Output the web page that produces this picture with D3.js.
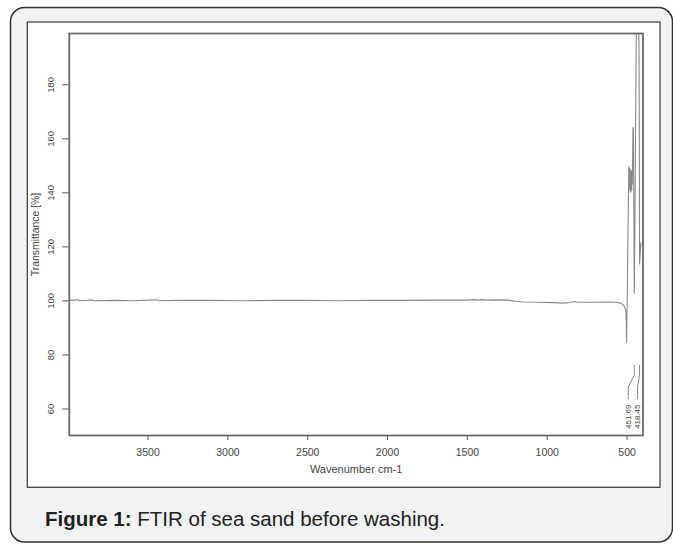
<!DOCTYPE html>
<html>
<head>
<meta charset="utf-8">
<script src="https://cdn.jsdelivr.net/npm/d3@7"></script>
<style>
  body { margin: 0; background: #fff; }
  svg { display: block; }
</style>
</head>
<body>
<svg id="chart"></svg>
<script>
// spectrum
const wavenumber = [3990, 3935, 3925, 3880, 3848, 3835, 3700, 3600, 3440, 3430, 3300, 3100, 2900, 2700,
  2500, 2300, 2100, 1900, 1700, 1500, 1460, 1440, 1400, 1380, 1300, 1240, 1190, 1150, 1050, 950,
  900, 860, 830, 800, 700, 620, 570, 545, 525, 512, 505, 502, 500, 497, 492, 486, 484, 482, 480,
  478, 476, 474, 472, 470, 468, 466, 464, 462, 460, 457, 454, 451.69, 448, 444, 440, 436, 430,
  424, 421, 418.45, 415, 412, 409];
const transmittance = [100.0, 100.2, 99.9, 100.0, 100.2, 99.9, 100.0, 99.9, 100.2, 99.9, 100.0, 100.0, 99.9, 100.0,
  100.0, 99.9, 100.0, 100.0, 100.1, 100.1, 100.3, 100.1, 100.3, 100.1, 100.2, 100.1, 99.6, 99.4, 99.3, 99.2,
  99.0, 99.2, 99.6, 99.3, 99.3, 99.4, 99.3, 99.1, 98.6, 97.6, 96.2, 93, 84.6, 96, 120, 149.5, 146, 149, 141,
  148.5, 140, 147, 141.5, 148, 140.5, 146.5, 143, 152, 164, 163.5, 130, 102.6, 125, 160, 192, 214, 226,
  218, 180, 113.5, 117, 120, 121.5];

const peaks = [451.69, 418.45];
const xTicks = [3500, 3000, 2500, 2000, 1500, 1000, 500];
const yTicks = [60, 80, 100, 120, 140, 160, 180];

const xDomain = [3990, 397];
const yDomain = [50, 198.8];

//------------------------------

const W = 673, H = 544;
const plot = {"left": 69.3, "top": 33.5, "right": 643, "bottom": 435.5};
const labelDx = [-6, -2];

let svg = d3.select("#chart")
  .attr("width", W)
  .attr("height", H);

// outer card + figure box
svg.append("rect")
  .attr("x", 10.5)
  .attr("y", 7.5)
  .attr("width", 662)
  .attr("height", 534.5)
  .attr("rx", 14)
  .attr("fill", "#f1f2f4")
  .attr("stroke", "#333")
  .attr("stroke-width", 1.5);
svg.append("rect")
  .attr("x", 27.3)
  .attr("y", 22)
  .attr("width", 632.7)
  .attr("height", 465.3)
  .attr("fill", "#fff")
  .attr("stroke", "#454545")
  .attr("stroke-width", 1.3);

const x = d3.scaleLinear().domain(xDomain).range([plot.left, plot.right]);
const y = d3.scaleLinear().domain(yDomain).range([plot.bottom, plot.top]);

// axes
let xAxis = svg.append("g")
  .attr("transform", `translate(0,${plot.bottom})`)
  .call(d3.axisBottom(x).tickValues(xTicks).tickFormat(d3.format("d"))
    .tickSize(4.5).tickPadding(9).tickSizeOuter(0));
xAxis.select(".domain").remove();
xAxis.selectAll("line").attr("stroke", "#555");
xAxis.selectAll("text")
  .attr("font-family", "Liberation Sans, Arial, sans-serif")
  .attr("font-size", 10.5)
  .attr("fill", "#444");

let yAxis = svg.append("g")
  .attr("transform", `translate(${plot.left},0)`)
  .call(d3.axisLeft(y).tickValues(yTicks).tickFormat(d3.format("d"))
    .tickSize(7).tickSizeOuter(0));
yAxis.select(".domain").remove();
yAxis.selectAll("line").attr("stroke", "#555");
yAxis.selectAll("text")
  .attr("transform", "rotate(-90)")
  .attr("x", 0)
  .attr("y", -15.8)
  .attr("dy", 0)
  .attr("text-anchor", "middle")
  .attr("font-family", "Liberation Sans, Arial, sans-serif")
  .attr("font-size", 9.5)
  .attr("fill", "#444");

svg.append("text")
  .attr("transform", `translate(38.5,${(plot.top + plot.bottom) / 2}) rotate(-90)`)
  .attr("text-anchor", "middle")
  .attr("font-family", "Liberation Sans, Arial, sans-serif")
  .attr("font-size", 10.4)
  .attr("fill", "#444")
  .text("Transmittance [%]");

svg.append("text")
  .attr("x", (plot.left + plot.right) / 2)
  .attr("y", 472.7)
  .attr("text-anchor", "middle")
  .attr("font-family", "Liberation Sans, Arial, sans-serif")
  .attr("font-size", 11)
  .attr("fill", "#444")
  .text("Wavenumber cm-1");

// spectrum
svg.append("clipPath")
  .attr("id", "plotclip")
  .append("rect")
  .attr("x", plot.left)
  .attr("y", plot.top)
  .attr("width", plot.right - plot.left)
  .attr("height", plot.bottom - plot.top);

const line = d3.line()
  .x((d) => x(d[0]))
  .y((d) => y(d[1]));

svg.append("path")
  .datum(wavenumber.map((w, i) => [w, transmittance[i]]))
  .attr("d", line)
  .attr("clip-path", "url(#plotclip)")
  .attr("fill", "none")
  .attr("stroke", "#8a8a8a")
  .attr("stroke-width", 1.1)
  .attr("stroke-linejoin", "round");

// peak labels
let pk = svg.append("g");
peaks.forEach((p, i) => {
  let px = x(p);
  let lx = px + labelDx[i];
  pk.append("path")
    .attr("d", `M${px},365V375L${lx},387V399`)
    .attr("fill", "none")
    .attr("stroke", "#8a8a8a")
    .attr("stroke-width", 1);
  pk.append("text")
    .attr("transform", `translate(${lx + 2.4},429) rotate(-90)`)
    .attr("text-anchor", "start")
    .attr("font-family", "Liberation Sans, Arial, sans-serif")
    .attr("font-size", 8)
    .attr("fill", "#444")
    .text(p.toFixed(2));
});

// frame
svg.append("rect")
  .attr("x", plot.left)
  .attr("y", plot.top)
  .attr("width", plot.right - plot.left)
  .attr("height", plot.bottom - plot.top)
  .attr("fill", "none")
  .attr("stroke", "#6a6a6a")
  .attr("stroke-width", 1.8);

// caption
let cap = svg.append("text")
  .attr("x", 45)
  .attr("y", 525.5)
  .attr("font-family", "Liberation Sans, Arial, sans-serif")
  .attr("font-size", 20.5)
  .attr("fill", "#222");
cap.append("tspan")
  .attr("font-weight", "bold")
  .text("Figure 1:");
cap.append("tspan")
  .text(" FTIR of sea sand before washing.");
</script>
</body>
</html>
